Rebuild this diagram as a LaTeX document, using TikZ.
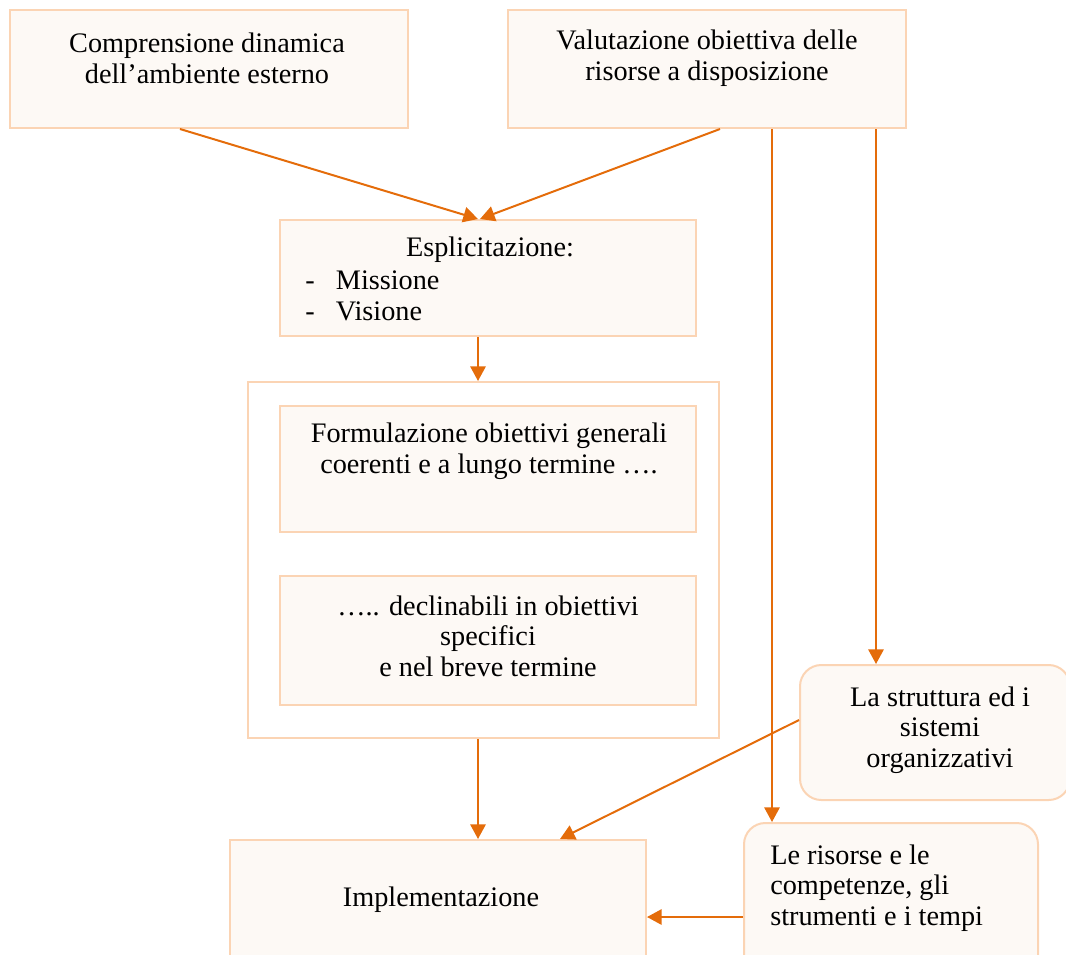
\documentclass[tikz,border=0pt]{standalone}
\usepackage{fontspec}
\setmainfont{Liberation Serif}
\usetikzlibrary{arrows.meta,positioning,calc}
\definecolor{boxline}{HTML}{FBD4B4}
\definecolor{boxfill}{HTML}{FDF9F5}
\definecolor{arrowc}{HTML}{E46C0A}

\begin{document}
\begin{tikzpicture}[x=0.75pt, y=-0.75pt,
    box/.style={draw=boxline, fill=boxfill, line width=1.5pt, inner sep=0pt},
    roundbox/.style={box, rounded corners=16pt},
    txt/.style={font=\fontsize{21.2}{23}\selectfont, align=center, inner sep=0pt},
    arr/.style={draw=arrowc, line width=1.5pt, -{Triangle[length=11pt,width=11.5pt]}}]
    \useasboundingbox (0,0) rectangle (1066,954);
    \clip (0,0) rectangle (1066,954);

    % Top boxes
    \node[box, minimum width=298.5pt, minimum height=88.5pt] (amb) at (209,69) {};
    \node[box, minimum width=298.5pt, minimum height=88.5pt] (ris) at (707,69) {};
    \node[txt] (amb-t) at (207,58.5) {Comprensione dinamica\\dell’ambiente esterno};
    \node[txt] (ris-t) at (707,58.5) {Valutazione obiettiva delle\\risorse a disposizione};

    % Mission and vision
    \node[box, minimum width=312pt, minimum height=87pt] (espl) at (488,278) {};
    \node[txt] (espl-t) at (490,250) {Esplicitazione:};
    \node[txt, align=left, anchor=west] (espl-l) at (305,296)
        {-\hspace{0.75em}Missione\\-\hspace{0.75em}Visione};

    % Objectives
    \node[box, fill=white, minimum width=353.25pt, minimum height=267pt] (obj) at (483.5,560) {};
    \node[box, minimum width=312pt, minimum height=94.5pt] (gen) at (488,469) {};
    \node[box, minimum width=312pt, minimum height=96.75pt] (spec) at (488,640.5) {};
    \node[txt] (gen-t) at (489,451) {Formulazione obiettivi generali\\coerenti e a lungo termine ….};
    \node[txt] (spec-t) at (488,636) {….. declinabili in obiettivi\\specifici\\e nel breve termine};

    % Bottom boxes
    \node[box, minimum width=312pt, minimum height=94.5pt] (impl) at (438,903) {};
    \node[txt] (impl-t) at (441,900) {Implementazione};
    \node[roundbox, minimum width=202.5pt, minimum height=101.25pt] (strut) at (935,732.5) {};
    \node[txt] (strut-t) at (940,730) {La struttura ed i\\sistemi\\organizzativi};
    \node[roundbox, minimum width=220.5pt, minimum height=121.5pt] (comp) at (891,904) {};
    \node[txt, align=left, anchor=west] (comp-t) at (770,888)
        {Le risorse e le\\competenze, gli\\strumenti e i tempi};

    % Arrows
    \draw[arr] (amb.south -| 180,0) -- ([xshift=-7.5pt]espl.north);
    \draw[arr] (ris.south -| 720,0) -- ([xshift=-6pt]espl.north);
    \draw[arr] (espl.south -| 478,0) -- (obj.north -| 478,0);
    \draw[arr] (obj.south -| 478,0) -- (impl.north -| 478,0);
    \draw[arr] (ris.south -| 772,0) -- (comp.north -| 772,0);
    \draw[arr] (ris.south -| 876,0) -- (strut.north -| 876,0);
    \draw[arr] (strut.west |- 720,720) -- (impl.north -| 560,0);
    \draw[arr] (comp.west |- 917,917) -- (impl.east |- 917,917);
\end{tikzpicture}
\end{document}
